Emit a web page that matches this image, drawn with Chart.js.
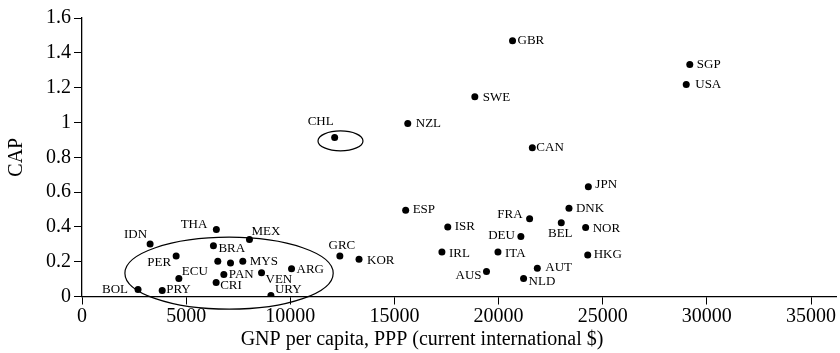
<!DOCTYPE html>
<html>
<head>
<meta charset="utf-8">
<script src="https://cdn.jsdelivr.net/npm/chart.js@4/dist/chart.umd.min.js"></script>
<style>
  html, body { margin: 0; padding: 0; background: #fff; }
  #wrap { width: 840px; height: 353px; position: relative; }
</style>
</head>
<body>
<div id="wrap"><canvas id="chart"></canvas></div>
<script>
// Datos
const countries = ["THA","IDN","MEX","BRA","PER","","","MYS","ARG","PAN","VEN","ECU","CRI","BOL","PRY","URY",
                   "GRC","KOR","CHL","NZL","ESP","JPN","ISR","FRA","DNK","BEL","NOR","DEU","IRL","ITA","HKG",
                   "AUS","AUT","NLD","GBR","SGP","USA","SWE","CAN"];
const gnpPerCapita = [6450,3270,8040,6310,4520,6520,7130,7720,10060,6810,8620,4650,6440,2690,3850,9070,
                      12380,13300,12130,15640,15540,24310,17560,21490,23380,23010,24180,21070,17280,19970,24280,
                      19420,21860,21200,20670,29180,29010,18860,21620];
const capValues = [0.385,0.301,0.328,0.291,0.232,0.203,0.193,0.203,0.159,0.126,0.136,0.103,0.080,0.040,0.034,0.006,
                   0.232,0.214,0.914,0.994,0.496,0.630,0.400,0.446,0.507,0.423,0.397,0.345,0.255,0.255,0.239,
                   0.144,0.163,0.103,1.469,1.333,1.218,1.147,0.855];
const xTicks = [0, 5000, 10000, 15000, 20000, 25000, 30000, 35000];
const yTicks = [0, 0.2, 0.4, 0.6, 0.8, 1, 1.2, 1.4, 1.6];
const xTitle = "GNP per capita, PPP (current international $)";
const yTitle = "CAP";

// Elipses (en unidades de datos): [centro x, centro y, radio x, radio y]
const ellipses = [[7060, 0.134, 5000, 0.207], [12410, 0.894, 1080, 0.057]];

// Posición de etiquetas respecto al punto: [dx, dy, align]
const labelPos = {
  THA: [-9, -5, "right"], IDN: [-3, -10, "right"], MEX: [2, -8, "left"], BRA: [5, 3, "left"],
  PER: [-5, 6, "right"], MYS: [7, 0, "left"], ECU: [3, -7, "left"], PAN: [5, 0, "left"],
  ARG: [5, 1, "left"], VEN: [4, 7, "left"], CRI: [4, 3, "left"], BOL: [-10, 0, "right"],
  PRY: [4, -1, "left"], URY: [4, -6, "left"], GRC: [2, -11, "center"], KOR: [8, 1, "left"],
  CHL: [-14, -16, "center"], NZL: [8, 0, "left"], ESP: [7, -1, "left"], JPN: [7, -2, "left"],
  ISR: [7, 0, "left"], FRA: [-7, -4, "right"], DNK: [7, 0, "left"], BEL: [-1, 11, "center"],
  NOR: [7, 1, "left"], DEU: [-6, -1, "right"], IRL: [7, 1, "left"], ITA: [7, 1, "left"],
  HKG: [6, 0, "left"], AUS: [-5, 4, "right"], AUT: [8, -1, "left"], NLD: [5, 3, "left"],
  GBR: [5, 0, "left"], SGP: [7, 0, "left"], USA: [9, 0, "left"], SWE: [8, 1, "left"], CAN: [4, 0, "left"]
};

const FONT = "'Liberation Serif', 'Times New Roman', serif";
Chart.defaults.font.family = FONT;
Chart.defaults.color = "#000";

const labelsPlugin = {
  id: "labels",
  afterDatasetsDraw(chart) {
    const { ctx, scales } = chart;
    ctx.save();
    ctx.strokeStyle = "#000";
    ctx.lineWidth = 1.2;
    ellipses.forEach(([cx, cy, rx, ry]) => {
      const px = scales.x.getPixelForValue(cx);
      const py = scales.y.getPixelForValue(cy);
      const prx = Math.abs(scales.x.getPixelForValue(cx + rx) - px);
      const pry = Math.abs(scales.y.getPixelForValue(cy + ry) - py);
      ctx.beginPath();
      ctx.ellipse(px, py, prx, pry, 0, 0, Math.PI * 2);
      ctx.stroke();
    });
    ctx.fillStyle = "#000";
    ctx.font = `13px ${FONT}`;
    ctx.textBaseline = "middle";
    chart.getDatasetMeta(0).data.forEach((pt, i) => {
      const name = countries[i];
      if (!name) return;
      const [dx, dy, align] = labelPos[name] || [6, 0, "left"];
      ctx.textAlign = align;
      ctx.fillText(name, pt.x + dx, pt.y + dy);
    });
    // título del eje x, centrado en la figura completa
    ctx.font = `20px ${FONT}`;
    ctx.textAlign = "center";
    ctx.fillText(xTitle, chart.width / 2 + 2, 340);
    ctx.restore();
  }
};

new Chart(document.getElementById("chart"), {
  type: "scatter",
  data: {
    datasets: [{
      data: gnpPerCapita.map((x, i) => ({ x, y: capValues[i] })),
      pointRadius: 3.5,
      pointBackgroundColor: "#000",
      pointBorderWidth: 0
    }]
  },
  options: {
    responsive: true,
    maintainAspectRatio: false,
    animation: false,
    layout: { padding: { top: 18, right: 2, left: 0, bottom: 0 } },
    plugins: { legend: { display: false }, tooltip: { enabled: false } },
    scales: {
      x: {
        type: "linear",
        min: 0,
        max: 36200,
        afterBuildTicks: axis => { axis.ticks = xTicks.map(v => ({ value: v })); },
        afterFit: axis => { axis.height = 56.5; },
        ticks: { font: { size: 20 }, padding: 0, maxRotation: 0, callback: v => String(v) },
        grid: { drawOnChartArea: false, drawTicks: true, tickLength: 8, color: "#000", lineWidth: 1 },
        border: { color: "#000", width: 1.3 },
        title: { display: false, text: xTitle }
      },
      y: {
        type: "linear",
        min: 0,
        max: 1.6,
        afterBuildTicks: axis => { axis.ticks = yTicks.map(v => ({ value: v })); },
        afterFit: axis => { axis.width = 82; },
        ticks: { font: { size: 20 }, padding: 3, callback: v => String(+v.toFixed(1)) },
        grid: { drawOnChartArea: false, drawTicks: true, tickLength: 8, color: "#000", lineWidth: 1 },
        border: { color: "#000", width: 1.3 },
        title: { display: true, text: yTitle, font: { size: 20 }, padding: { top: 5, bottom: 4 } }
      }
    }
  },
  plugins: [labelsPlugin]
});
</script>
</body>
</html>
